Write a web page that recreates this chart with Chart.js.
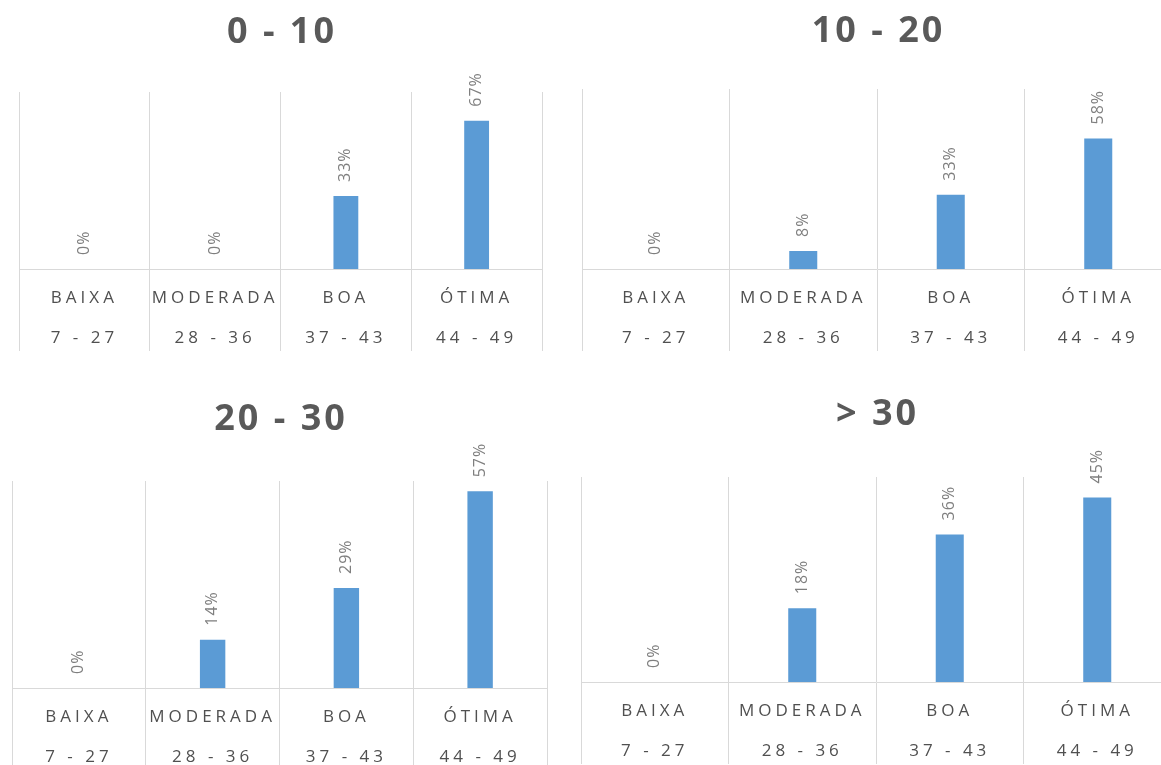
<!DOCTYPE html>
<html>
<head>
<meta charset="utf-8">
<script src="https://cdn.jsdelivr.net/npm/chart.js@4/dist/chart.umd.min.js"></script>
<style>
  html, body { margin: 0; padding: 0; background: #fff; width: 1161px; height: 765px; overflow: hidden; }
  canvas { position: absolute; }
</style>
</head>
<body>
<canvas id="c0"></canvas>
<canvas id="c1"></canvas>
<canvas id="c2"></canvas>
<canvas id="c3"></canvas>
<script>
// Data
const categories = ["BAIXA", "MODERADA", "BOA", "ÓTIMA"];
const scoreRanges = ["7 - 27", "28 - 36", "37 - 43", "44 - 49"];
const groupTitles = ["0 - 10", "10 - 20", "20 - 30", "> 30"];
const values0to10 = [0, 0, 33, 67];
const values10to20 = [0, 8, 33, 58];
const values20to30 = [0, 14, 29, 57];
const valuesOver30 = [0, 18, 36, 45];
const axisMax = [80, 80, 60, 50];

const seriesList = [values0to10, values10to20, values20to30, valuesOver30];

// Where each small chart sits on the page (plot box + title centre)
const panels = [
  { left: 19, right: 542, top: 92, bottom: 269, titleY: 33, canvasTop: 0 },
  { left: 582, right: 1172, top: 89, bottom: 269, titleY: 32, canvasTop: 0 },
  { left: 12, right: 547, top: 481, bottom: 688, titleY: 420, canvasTop: 380 },
  { left: 581, right: 1171, top: 477, bottom: 682, titleY: 415, canvasTop: 375 }
];

const FONT = "'Open Sans', sans-serif";
const AXIS_HEIGHT = 95;
const TICK_LEN = 82;

// Excel-like spaced letters for the category labels
const spacingPlugin = {
  id: "spacing",
  beforeDraw(chart) { chart.ctx.letterSpacing = "4px"; },
  beforeDatasetsDraw(chart) { chart.ctx.letterSpacing = "0px"; }
};

// Rotated percentage labels above each bar, plus the panel title
const labelsPlugin = {
  id: "barLabels",
  afterDatasetsDraw(chart) {
    const ctx = chart.ctx;
    const meta = chart.getDatasetMeta(0);
    const values = chart.data.datasets[0].data;
    ctx.save();
    ctx.letterSpacing = "1px";
    ctx.font = "16px " + FONT;
    ctx.fillStyle = "#7f7f7f";
    ctx.textAlign = "left";
    ctx.textBaseline = "middle";
    meta.data.forEach(function(bar, i) {
      ctx.save();
      ctx.translate(bar.x, bar.y - 14);
      ctx.rotate(-Math.PI / 2);
      ctx.fillText(values[i] + "%", 0, 0);
      ctx.restore();
    });
    ctx.restore();
  },
  afterDraw(chart) {
    const opts = chart.options.plugins.barLabels;
    const ctx = chart.ctx;
    const area = chart.chartArea;
    ctx.save();
    ctx.letterSpacing = "3px";
    ctx.font = "bold 36px " + FONT;
    ctx.fillStyle = "#595959";
    ctx.textAlign = "center";
    ctx.textBaseline = "middle";
    ctx.fillText(opts.title, (area.left + area.right) / 2 + 1.5, opts.titleY);
    ctx.restore();
  }
};

panels.forEach(function(p, k) {
  const canvas = document.getElementById("c" + k);
  canvas.width = p.right - p.left + 8;
  canvas.height = p.bottom - p.canvasTop + AXIS_HEIGHT;
  canvas.style.left = (p.left - 4) + "px";
  canvas.style.top = p.canvasTop + "px";

  new Chart(canvas.getContext("2d"), {
    type: "bar",
    data: {
      labels: categories.map(function(c, i) { return [c, scoreRanges[i]]; }),
      datasets: [{
        data: seriesList[k],
        backgroundColor: "#5B9BD5",
        borderWidth: 0,
        barPercentage: 0.19,
        categoryPercentage: 1
      }]
    },
    options: {
      responsive: false,
      animation: false,
      devicePixelRatio: 1,
      layout: { padding: { left: 4, right: 4, top: p.top - p.canvasTop, bottom: 0 } },
      plugins: {
        legend: { display: false },
        tooltip: { enabled: false },
        barLabels: { title: groupTitles[k], titleY: p.titleY - p.canvasTop }
      },
      scales: {
        x: {
          grid: { color: "#d9d9d9", lineWidth: 1, offset: true, tickLength: TICK_LEN },
          border: { color: "#d9d9d9", width: 1 },
          ticks: {
            color: "#505050",
            font: { family: FONT, size: 17, lineHeight: "40px" },
            padding: 9 - TICK_LEN,
            autoSkip: false,
            maxRotation: 0,
            minRotation: 0
          },
          afterFit: function(scale) { scale.height = AXIS_HEIGHT; }
        },
        y: { display: false, min: 0, max: axisMax[k] }
      }
    },
    plugins: [spacingPlugin, labelsPlugin]
  });
});
</script>
</body>
</html>
